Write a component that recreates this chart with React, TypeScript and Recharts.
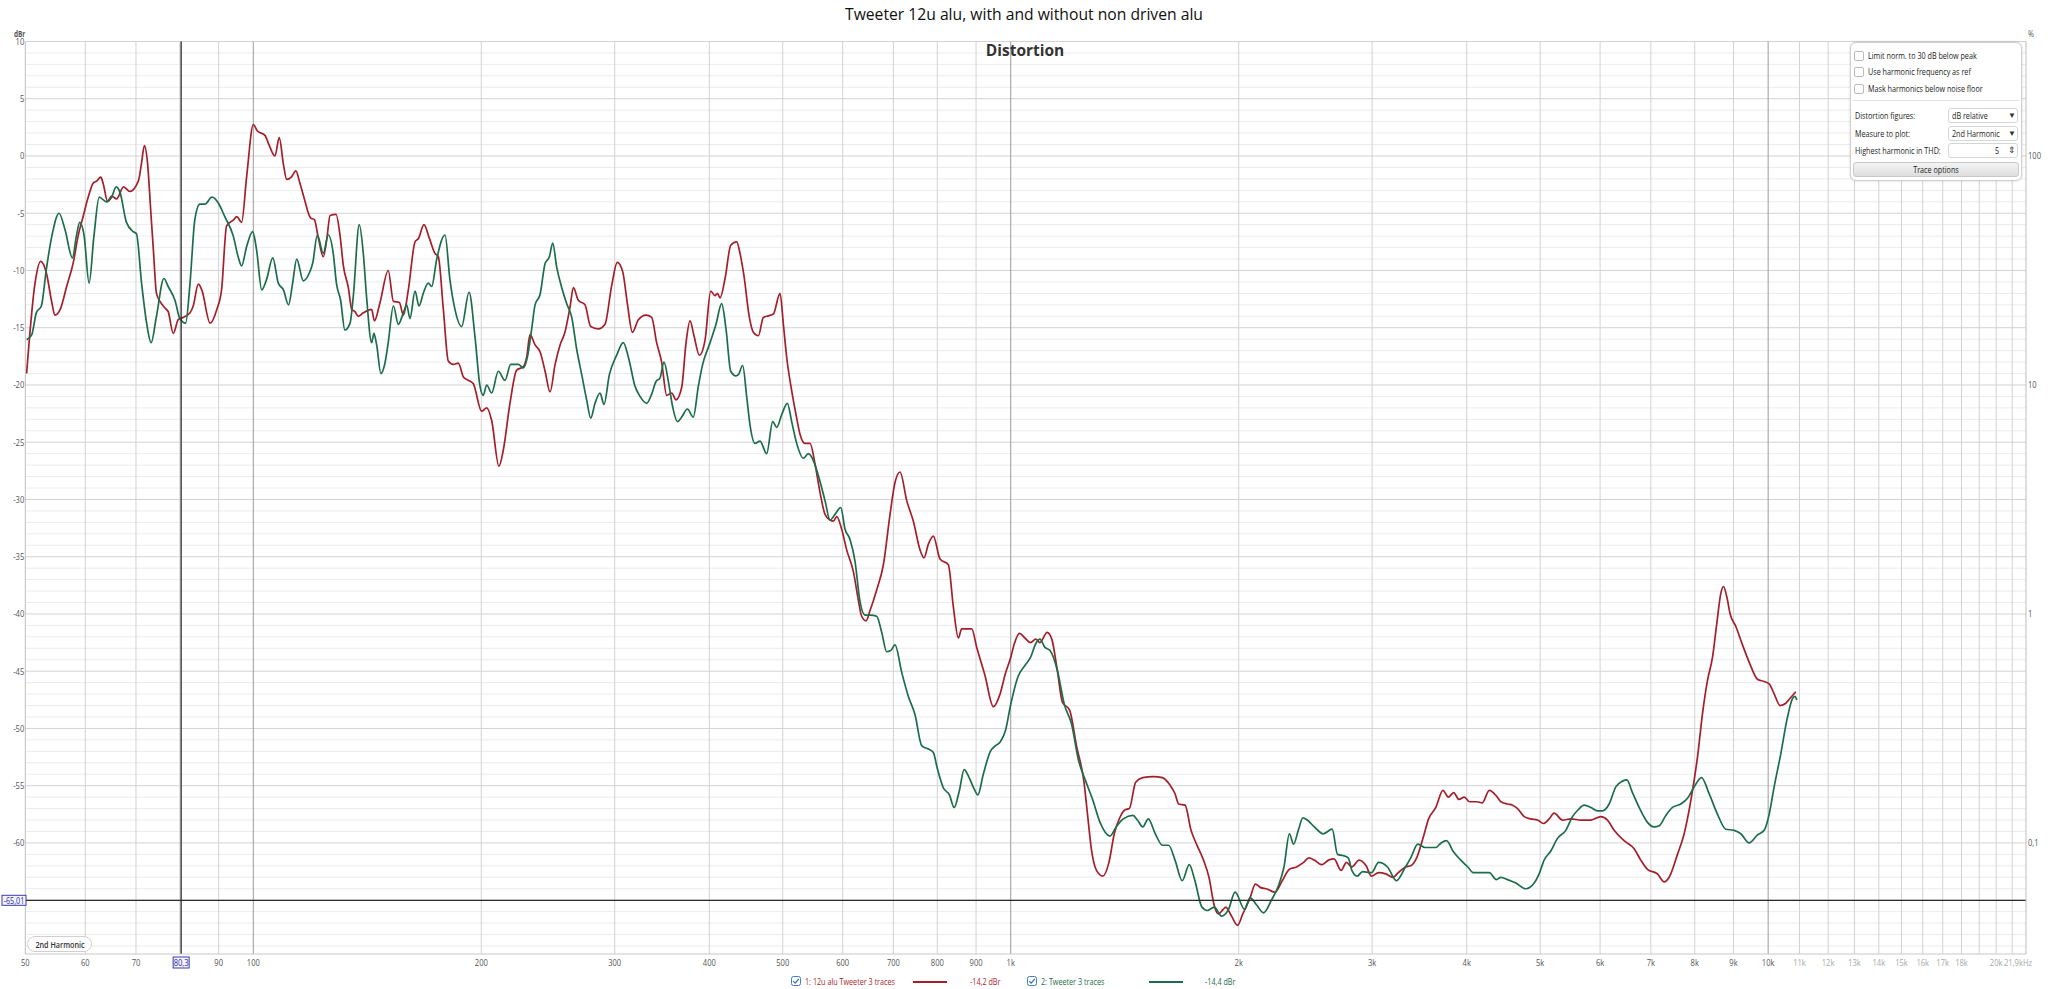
import React from "react";
import { LineChart, Line, XAxis, YAxis, CartesianGrid, ReferenceLine } from "recharts";

// ---- series: [frequency Hz, level dBr] ----
const redPoints: [number, number][] = [
  [50.2,-19.0],[51.5,-11.1],[52.4,-9.2],[53.3,-10.2],[54.2,-12.8],[54.7,-13.9],[55.6,-13.4],[56.7,-11.4],[57.9,-9.2],[58.7,-7.0],[59.6,-5.3],[60.6,-3.5],[61.5,-2.35],[62.1,-2.2],[62.9,-1.85],[63.4,-2.5],[64.2,-3.95],[65.0,-3.5],[66.0,-3.75],[67.4,-2.7],[68.7,-3.1],[70.5,-2.2],[71.2,-0.6],[71.8,0.9],[72.5,-0.6],[73.2,-4.7],[73.8,-8.2],[74.5,-12.0],[75.3,-12.7],[76.5,-13.3],[77.2,-13.6],[78.4,-15.5],[79.6,-14.3],[80.8,-14.1],[82.5,-13.7],[83.3,-13.1],[84.6,-11.2],[85.5,-11.7],[87.7,-14.6],[89.5,-13.4],[90.8,-11.7],[92.2,-6.1],[94.1,-5.6],[95.1,-5.3],[96.5,-5.8],[98.0,-1.8],[100,2.75],[101.2,2.2],[103.6,1.8],[105.0,0.9],[106.8,0],[108.2,1.6],[109.6,-0.75],[110.7,-2.05],[112.4,-1.8],[113.8,-1.3],[115.2,-2.35],[116.7,-3.66],[119.0,-5.4],[120.4,-5.56],[121.9,-7.2],[123.7,-8.8],[125.0,-7.3],[126.3,-5.2],[128.6,-5.1],[130.2,-7.0],[131.5,-9.6],[133.5,-11.5],[134.9,-13.4],[136.2,-13.6],[137.6,-14.0],[139.7,-13.7],[143.3,-13.4],[144.5,-14.4],[147.0,-12.8],[150.7,-10.0],[153.1,-12.7],[155.9,-12.8],[157.8,-13.9],[160.2,-11.7],[163.5,-7.5],[165.2,-7.2],[168.0,-6.0],[170.8,-7.2],[173.7,-8.5],[175.5,-8.8],[178.2,-13.4],[180.9,-17.9],[183.7,-18.2],[186.5,-18.1],[189.4,-19.3],[192.3,-19.6],[195.2,-19.9],[200.2,-22.3],[203.3,-22.0],[206.4,-23.1],[211.0,-27.1],[213.8,-25.7],[218.2,-21.6],[222.7,-18.7],
  [227.3,-18.4],[229.6,-17.55],[231.9,-15.6],[235.5,-16.5],[239.1,-17.1],[242.8,-18.8],[246.5,-20.6],[250.3,-18.2],[254.1,-16.5],[257.9,-15.4],[261.9,-13.2],[264.6,-11.5],[268.6,-12.6],[274.1,-13.0],[278.9,-14.9],[285.5,-15.1],[291.3,-14.7],[297.3,-11.3],[302.4,-9.3],[307.4,-10.1],[311.8,-12.9],[316.6,-15.4],[322.4,-14.3],[330.0,-13.9],[335.7,-14.1],[340.8,-16.3],[346.0,-18.0],[351.4,-20.9],[356.8,-20.7],[361.5,-21.3],[367.8,-20.2],[372.7,-16.3],[377.2,-14.4],[381.8,-15.7],[388.1,-17.4],[394.8,-16.1],[401.7,-11.8],[407.0,-12.2],[409.9,-12.0],[413.3,-12.4],[419.6,-10.7],[426.9,-7.8],[434.7,-7.5],[439.1,-8.5],[444.5,-10.5],[451.8,-14.1],[457.3,-15.4],[464.3,-15.7],[471.4,-14.1],[478.7,-13.96],[486.0,-13.8],[495.9,-12.0],[501.0,-14.7],[506.1,-17.6],[513.8,-20.5],[521.7,-22.9],[527.0,-24.3],[535.1,-25.1],[543.3,-25.1],[551.6,-26.9],[560.1,-29.4],[568.6,-31.3],[577.4,-31.8],[583.3,-31.9],[589.2,-31.5],[598.2,-32.6],[607.3,-34.4],[619.8,-36.3],[629.3,-38.8],[635.6,-40.2],[644.1,-40.6],[652.0,-39.7],[665.3,-37.9],[679.0,-35.7],[692.9,-31.3],[703.5,-28.5],[714.3,-27.6],[728.9,-30.1],[743.8,-31.9],[759.0,-34.4],[768.3,-35.1],[778.5,-33.9],[790.4,-33.2],[806.6,-35.2],[827.3,-35.7],[840.0,-39.4],[852.9,-42.1],[861.5,-41.3],[888.2,-41.3],[901.7,-42.9],[924.9,-45.4],[948.6,-48.1],
  [968,-47.0],[984,-45.2],[1000,-43.8],[1011,-42.6],[1027,-41.7],[1044,-42.1],[1062,-42.5],[1079,-42.2],[1093,-42.5],[1117,-41.6],[1133,-42.2],[1152,-44.9],[1170,-47.7],[1196,-48.4],[1222,-51.6],[1249,-54.6],[1263,-57.5],[1277,-60.4],[1298,-62.4],[1323,-62.9],[1348,-61.7],[1370,-59.2],[1393,-57.8],[1416,-57.1],[1434,-57.0],[1462,-54.7],[1494,-54.3],[1544,-54.2],[1586,-54.3],[1621,-54.9],[1648,-55.7],[1666,-56.6],[1699,-56.7],[1730,-58.9],[1759,-60.1],[1797,-61.5],[1827,-63.0],[1857,-65.5],[1881,-66.2],[1908,-65.8],[1923,-65.6],[1950,-66.2],[1993,-67.2],[2025,-66.2],[2070,-64.8],[2104,-63.6],[2138,-63.9],[2174,-64.0],[2233,-64.3],[2283,-63.3],[2333,-62.3],[2384,-62.1],[2436,-61.7],[2476,-61.3],[2517,-61.5],[2572,-61.9],[2628,-61.5],[2672,-61.4],[2730,-62.4],[2775,-61.7],[2821,-62.1],[2883,-61.5],[2946,-62.0],[2994,-62.9],[3060,-62.6],[3127,-62.7],[3196,-63.0],[3248,-62.6],[3320,-62.1],[3374,-62.0],[3430,-61.4],[3505,-59.5],[3562,-57.9],[3641,-56.9],[3721,-55.4],[3782,-56.0],[3844,-55.6],[3907,-56.2],[3970,-56.0],[4036,-56.4],[4124,-56.4],[4192,-56.5],[4284,-55.4],[4378,-55.9],
  [4437,-56.4],[4528,-56.6],[4597,-56.7],[4668,-57.0],[4763,-57.7],[4861,-57.9],[4960,-58.0],[5051,-58.3],[5139,-57.9],[5217,-57.4],[5352,-58.0],[5489,-57.9],[5659,-58.0],[5834,-58.0],[6012,-57.7],[6136,-58.0],[6261,-58.9],[6454,-59.8],[6654,-60.5],[6790,-61.5],[6929,-62.3],[7143,-62.7],[7290,-63.4],[7401,-63.0],[7591,-61.0],[7747,-59.2],[7905,-56.3],[8067,-52.5],[8191,-48.7],[8316,-45.8],[8443,-43.8],[8556,-40.8],[8660,-38.2],[8730,-37.6],[8819,-38.5],[8909,-40.0],[9065,-41.1],[9250,-42.7],[9439,-44.2],[9681,-45.7],[9879,-45.9],[10031,-46.1],[10184,-46.97],[10371,-48.0],[10552,-47.8],[10713,-47.3],[10877,-46.8],
];

const greenPoints: [number, number][] = [
  [50.2,-16.05],[51.0,-15.6],[51.7,-13.7],[52.5,-13.1],[53.3,-9.9],[54.2,-7.0],[55.4,-5.0],[56.4,-6.4],[57.7,-8.9],[58.4,-7.0],[59.0,-5.8],[59.8,-7.0],[60.7,-11.1],[61.6,-7.0],[62.6,-3.6],[64.0,-4.0],[65.0,-3.6],[65.9,-2.7],[66.7,-3.2],[68.0,-5.8],[69.4,-6.6],[70.1,-6.8],[71.2,-11.1],[72.3,-14.6],[73.3,-16.3],[74.5,-14.0],[76.2,-10.7],[77.2,-11.4],[78.8,-12.6],[80.0,-14.2],[81.4,-14.6],[82.5,-11.1],[83.7,-5.6],[85.0,-4.2],[86.3,-4.2],[88.2,-3.6],[89.9,-4.1],[91.7,-5.3],[94.1,-7.0],[95.5,-8.8],[96.5,-9.6],[98.0,-7.9],[99.8,-6.6],[101.0,-8.2],[102.6,-11.7],[104.1,-10.8],[106.1,-8.9],[107.9,-11.1],[109.6,-11.7],[111.3,-13.0],[112.7,-11.1],[114.1,-9.0],[116.4,-10.9],[118.6,-10.2],[119.8,-9.35],[121.5,-6.9],[123.7,-8.5],[125.6,-6.9],[127.5,-8.5],[128.8,-11.2],[130.4,-12.6],[132.1,-15.2],[134.2,-14.6],[135.5,-12.3],[138.0,-6.0],[139.7,-8.5],[141.1,-12.3],[143.3,-16.3],[144.3,-15.5],[145.5,-16.5],[147.4,-19.0],[149.2,-18.1],[150.7,-16.3],[153.1,-13.1],[155.4,-14.7],[157.8,-13.7],[159.4,-13.0],[161.0,-14.2],[163.5,-11.8],[165.5,-13.1],[167.7,-11.97],[170.2,-11.1],[172.0,-11.4],[174.6,-9.05],[179.1,-6.9],[181.8,-10.8],[184.6,-13.4],[188.4,-14.9],[192.7,-11.9],[196.2,-15.8],[199.2,-20.1],[201.2,-20.9],[203.3,-20.0],[206.4,-20.7],[210.6,-18.8],[214.9,-19.6],[218.7,-18.2],[223.8,-18.2],
  [227.3,-18.5],[230.1,-17.55],[233.1,-15.1],[235.5,-13.0],[239.1,-12.1],[242.8,-9.4],[246.0,-8.8],[248.5,-7.6],[251.5,-9.7],[255.4,-11.5],[259.3,-12.9],[263.3,-14.1],[267.3,-16.9],[271.4,-19.1],[275.5,-21.3],[278.9,-22.9],[282.6,-21.6],[286.9,-20.7],[290.4,-21.7],[295.2,-19.1],[301.8,-17.4],[308.0,-16.3],[312.7,-17.55],[319.1,-20.1],[324.0,-21.0],[330.7,-21.6],[335.7,-20.8],[340.2,-19.7],[344.3,-19.4],[348.5,-18.0],[353.2,-19.7],[357.8,-21.9],[363.0,-23.2],[367.8,-22.8],[374.2,-22.1],[381.0,-22.8],[386.9,-20.1],[392.0,-18.2],[400.9,-16.3],[408.2,-14.7],[415.3,-12.9],[420.8,-15.1],[426.9,-18.8],[433.8,-19.2],[436.9,-19.1],[442.7,-18.3],[448.1,-21.0],[452.7,-23.5],[459.6,-25.1],[466.7,-24.9],[476.2,-26.0],[485.0,-23.2],[490.9,-23.7],[498.4,-22.6],[507.1,-21.6],[513.8,-23.2],[521.7,-25.1],[532.4,-26.4],[540.5,-26.0],[548.8,-26.6],[557.2,-27.9],[568.6,-30.1],[577.4,-31.8],[586.2,-31.3],[596.4,-30.7],[604.3,-32.6],[613.5,-33.5],[622.9,-35.4],[632.4,-38.9],[642.1,-40.1],[652.0,-40.1],[665.3,-40.2],[675.5,-41.6],[685.9,-43.3],[694.3,-43.2],[703.5,-42.7],[717.9,-45.1],[732.6,-47.2],[747.6,-48.8],[762.9,-51.5],[778.5,-51.8],[790.4,-52.1],
  [800,-53.5],[815,-55.2],[830,-55.8],[842,-56.9],[855,-55.5],[868,-53.6],[880,-54.2],[895,-55.3],[905,-55.8],[920,-54.0],[940,-52.0],[955,-51.5],
  [968,-51.2],[984,-50.2],[1000,-47.9],[1022,-45.5],[1044,-44.5],[1062,-43.8],[1079,-42.6],[1093,-42.2],[1109,-42.9],[1127,-43.2],[1152,-44.9],[1177,-47.9],[1203,-49.6],[1229,-52.8],[1256,-54.6],[1284,-56.3],[1312,-58.2],[1352,-59.4],[1378,-58.6],[1408,-57.9],[1450,-57.6],[1470,-58.0],[1494,-58.6],[1519,-57.9],[1552,-59.2],[1586,-60.2],[1616,-60.2],[1648,-61.5],[1684,-63.3],[1721,-61.9],[1749,-63.2],[1788,-65.6],[1817,-65.9],[1857,-65.6],[1898,-66.4],[1939,-65.8],[1978,-64.3],[2036,-65.8],[2070,-64.8],[2111,-65.4],[2157,-66.1],[2209,-65.0],[2258,-63.7],[2295,-62.1],[2333,-59.2],[2363,-60.1],[2397,-58.9],[2431,-57.8],[2463,-58.0],[2517,-58.6],[2586,-59.2],[2657,-58.8],[2701,-61.0],[2745,-61.1],[2790,-61.3],[2821,-62.4],[2867,-62.9],[2914,-62.5],[2994,-62.6],[3060,-61.7],[3144,-62.1],[3230,-63.3],[3320,-62.1],[3374,-61.3],[3448,-60.1],[3524,-60.4],[3640,-60.4],[3700,-60.0],[3761,-59.8],[3844,-60.8],[3928,-61.5],[4014,-62.1],[4080,-62.6],[4192,-62.6],[4284,-62.6],[4378,-63.2],
  [4437,-63.0],[4528,-63.2],[4644,-63.5],[4787,-64.0],[4910,-63.5],[4985,-62.7],[5061,-61.5],[5165,-60.7],[5271,-59.6],[5406,-58.9],[5517,-57.7],[5613,-57.1],[5716,-56.7],[5834,-56.9],[5952,-57.2],[6043,-57.2],[6167,-56.6],[6293,-55.1],[6422,-54.6],[6507,-54.5],[6620,-55.6],[6756,-56.9],[6929,-58.2],[7071,-58.6],[7179,-58.5],[7327,-57.6],[7477,-56.9],[7669,-56.6],[7826,-56.1],[7986,-55.1],[8166,-54.3],[8358,-55.7],[8573,-57.5],[8793,-58.8],[9018,-58.9],[9203,-59.2],[9439,-60.0],[9681,-59.3],[9879,-58.9],[10031,-57.5],[10184,-55.1],[10393,-52.2],[10584,-49.3],[10768,-47.4],[10845,-47.2],[10911,-47.5],
];

// ---- axes / ticks ----
const xTicks = [50, 60, 70, 80.3, 90, 100, 200, 300, 400, 500, 600, 700, 800, 900, 1000, 2000, 3000, 4000, 5000, 6000, 7000, 8000, 9000, 10000, 11000, 12000, 13000, 14000, 15000, 16000, 17000, 18000, 20000, 21900];
const xTickLabels = ["50", "60", "70", "80,3", "90", "100", "200", "300", "400", "500", "600", "700", "800", "900", "1k", "2k", "3k", "4k", "5k", "6k", "7k", "8k", "9k", "10k", "11k", "12k", "13k", "14k", "15k", "16k", "17k", "18k", "20k", "21,9kHz"];
const gridFreqs = [60, 70, 80, 90, 200, 300, 400, 500, 600, 700, 800, 900, 2000, 3000, 4000, 5000, 6000, 7000, 8000, 9000, 11000, 12000, 13000, 14000, 15000, 16000, 17000, 18000, 19000, 20000, 21000];
const decadeFreqs = [100, 1000, 10000];
const dbTicks = [10, 5, 0, -5, -10, -15, -20, -25, -30, -35, -40, -45, -50, -55, -60, -65.01];
const dbTickLabels = ["10", "5", "0", "-5", "-10", "-15", "-20", "-25", "-30", "-35", "-40", "-45", "-50", "-55", "-60", "-65,01"];
const majorDb = [10, 5, 0, -5, -10, -15, -20, -25, -30, -35, -40, -45, -50, -55, -60, -65];
const minorDb = [9, 8, 7, 6, 4, 3, 2, 1, -1, -2, -3, -4, -6, -7, -8, -9, -11, -12, -13, -14, -16, -17, -18, -19, -21, -22, -23, -24, -26, -27, -28, -29, -31, -32, -33, -34, -36, -37, -38, -39, -41, -42, -43, -44, -46, -47, -48, -49, -51, -52, -53, -54, -56, -57, -58, -59, -61, -62, -63, -64, -66, -67, -68, -69];
const pctTicks = [0, -20, -40, -60];
const pctTickLabels = ["100", "10", "1", "0,1"];
const cursorFreq = 80.3;
const cursorDb = -65.01;
const dbDomain: [number, number] = [-69.7, 10];
const freqDomain: [number, number] = [50, 21900];

const RED = "#a51f2b";
const GREEN = "#1c6d4b";
const FONT = "'Open Sans', 'Noto Sans', sans-serif";
const SX = 0.8;

const XTick = (props: any) => {
  const { x, y, payload } = props;
  const i = xTicks.indexOf(payload.value);
  const label = xTickLabels[i] ?? "";
  if (payload.value === cursorFreq) {
    return (
      <g>
        <rect x={x - 8} y={y + 3} width={16} height={11} fill="#f4f4ff" stroke="#3a3aa8" strokeWidth={1} />
        <text transform={`translate(${x},${y + 12}) scale(${SX},1)`} textAnchor="middle" fontSize={9.5} fill="#2a2aa0" fontFamily={FONT}>{label}</text>
      </g>
    );
  }
  const light = payload.value > 10000;
  const dx = payload.value === 21900 ? -8 : 0;
  return (
    <text transform={`translate(${x + dx},${y + 12}) scale(${SX},1)`} textAnchor="middle" fontSize={9.5} fill={light ? "#a8a8a8" : "#555"} fontFamily={FONT}>{label}</text>
  );
};

const YTick = (props: any) => {
  const { x, y, payload } = props;
  const i = dbTicks.indexOf(payload.value);
  const label = dbTickLabels[i] ?? "";
  if (payload.value === cursorDb) {
    return (
      <g>
        <rect x={2} y={y - 5} width={24} height={10} fill="#f4f4ff" stroke="#3a3aa8" strokeWidth={1} />
        <text transform={`translate(${14},${y + 3.5}) scale(${SX},1)`} textAnchor="middle" fontSize={9} fill="#2a2aa0" fontFamily={FONT}>{label}</text>
      </g>
    );
  }
  return (
    <text transform={`translate(${x},${y + 3.5}) scale(${SX},1)`} textAnchor="end" fontSize={9.5} fill="#555" fontFamily={FONT}>{label}</text>
  );
};

const PTick = (props: any) => {
  const { x, y, payload } = props;
  const i = pctTicks.indexOf(payload.value);
  return (
    <text transform={`translate(${x},${y + 3.5}) scale(${SX},1)`} textAnchor="start" fontSize={9.5} fill="#555" fontFamily={FONT}>{pctTickLabels[i]}</text>
  );
};

const Txt = ({ left, top, size, children, color = "#222", weight = 400, sx = SX, anchor = "left" }: any) => (
  <div
    style={{
      position: "absolute",
      left,
      top,
      fontSize: size,
      color,
      fontWeight: weight,
      whiteSpace: "nowrap",
      lineHeight: 1,
      transform: anchor === "center" ? `translateX(-50%) scaleX(${sx})` : `scaleX(${sx})`,
      transformOrigin: anchor === "center" ? "center" : "left",
    }}
  >
    {children}
  </div>
);

const CheckBox = ({ left, top }: any) => (
  <div style={{ position: "absolute", left, top, width: 8, height: 8, border: "1px solid #bbb", borderRadius: 2, background: "#fff" }} />
);

const Ticked = ({ left, top }: any) => (
  <svg style={{ position: "absolute", left, top }} width={10} height={10}>
    <rect x={0.5} y={0.5} width={9} height={9} rx={2} fill="#fff" stroke="#3c7fc4" />
    <path d="M2.2 5.2 L4.2 7.2 L7.8 2.8" fill="none" stroke="#2f6fb5" strokeWidth={1.2} />
  </svg>
);

export default function App() {
  const redData = redPoints.map(([f, v]) => ({ f, v }));
  const greenData = greenPoints.map(([f, v]) => ({ f, v }));
  return (
    <div style={{ position: "fixed", left: 0, top: 0, width: 2048, height: 989, background: "#fff", overflow: "hidden", fontFamily: FONT }}>
      <LineChart width={2048} height={989} margin={{ top: 41.5, right: 0, bottom: 0, left: 0 }}>
        <CartesianGrid vertical={false} horizontalValues={minorDb} stroke="#ececec" />
        <CartesianGrid vertical={false} horizontalValues={majorDb} stroke="#d3d3d3" />
        <CartesianGrid horizontal={false} verticalValues={gridFreqs} stroke="#d2d2d2" />
        <CartesianGrid horizontal={false} verticalValues={decadeFreqs} stroke="#9c9c9c" />
        <XAxis dataKey="f" type="number" scale="log" domain={freqDomain} allowDataOverflow ticks={xTicks} interval={0} height={35} tickSize={0} tickMargin={0} tick={(p: any) => <XTick {...p} />} axisLine={{ stroke: "#c8c8c8" }} tickLine={false} />
        <YAxis type="number" domain={dbDomain} allowDataOverflow ticks={dbTicks} interval={0} width={25.3} tickSize={0} tickMargin={1} tick={(p: any) => <YTick {...p} />} axisLine={{ stroke: "#bdbdbd" }} tickLine={false} />
        <YAxis yAxisId="pct" orientation="right" type="number" domain={dbDomain} allowDataOverflow ticks={pctTicks} interval={0} width={22} tickSize={0} tickMargin={2} tick={(p: any) => <PTick {...p} />} axisLine={{ stroke: "#bdbdbd" }} tickLine={false} />
        <Line data={redData} dataKey="v" type="monotone" stroke={RED} strokeWidth={1.7} dot={false} activeDot={false} isAnimationActive={false} />
        <Line data={greenData} dataKey="v" type="monotone" stroke={GREEN} strokeWidth={1.7} dot={false} activeDot={false} isAnimationActive={false} />
        <ReferenceLine x={cursorFreq} stroke="#2b2b2b" strokeWidth={1.3} />
        <ReferenceLine y={cursorDb} stroke="#2b2b2b" strokeWidth={1.3} />
      </LineChart>

      {/* title and headings */}
      <Txt left={1024} top={6} size={16.5} color="#111" anchor="center" sx={0.95}>Tweeter 12u alu, with and without non driven alu</Txt>
      <Txt left={1025} top={43} size={15.5} color="#333" weight={700} anchor="center" sx={1.0}>Distortion</Txt>
      <Txt left={14} top={30} size={8} color="#555" weight={700}>dBr</Txt>
      <Txt left={2028} top={29} size={9} color="#555">%</Txt>

      {/* 2nd harmonic pill */}
      <div style={{ position: "absolute", left: 27, top: 936, width: 65, height: 16, border: "1.5px solid #d0d0d0", borderRadius: 8, background: "#fff", boxSizing: "border-box" }} />
      <Txt left={60} top={940} size={9} color="#333" weight={600} anchor="center">2nd Harmonic</Txt>

      {/* options panel */}
      <div style={{ position: "absolute", left: 1850, top: 42, width: 172, height: 139, border: "1px solid #cfcfcf", borderRadius: 6, background: "#fff", boxShadow: "0 0 3px rgba(0,0,0,0.15)", boxSizing: "border-box" }} />
      <CheckBox left={1854} top={51} />
      <Txt left={1868} top={51} size={9} color="#222">Limit norm. to 30 dB below peak</Txt>
      <CheckBox left={1854} top={67} />
      <Txt left={1868} top={67} size={9} color="#222">Use harmonic frequency as ref</Txt>
      <CheckBox left={1854} top={84} />
      <Txt left={1868} top={84} size={9} color="#222">Mask harmonics below noise floor</Txt>
      <div style={{ position: "absolute", left: 1853, top: 100, width: 166, height: 1, background: "#e2e2e2" }} />
      <Txt left={1855} top={111} size={9} color="#222">Distortion figures:</Txt>
      <div style={{ position: "absolute", left: 1948, top: 108, width: 70, height: 15, border: "1px solid #d6d6d6", borderRadius: 3, boxSizing: "border-box", background: "#fff" }} />
      <Txt left={1952} top={111} size={9} color="#222">dB relative</Txt>
      <Txt left={2008} top={111} size={8} color="#333" sx={1}>▼</Txt>
      <Txt left={1855} top={129} size={9} color="#222">Measure to plot:</Txt>
      <div style={{ position: "absolute", left: 1948, top: 126, width: 70, height: 15, border: "1px solid #d6d6d6", borderRadius: 3, boxSizing: "border-box", background: "#fff" }} />
      <Txt left={1952} top={129} size={9} color="#222">2nd Harmonic</Txt>
      <Txt left={2008} top={129} size={8} color="#333" sx={1}>▼</Txt>
      <Txt left={1855} top={146} size={9} color="#222">Highest harmonic in THD:</Txt>
      <div style={{ position: "absolute", left: 1948, top: 143, width: 70, height: 15, border: "1px solid #d6d6d6", borderRadius: 3, boxSizing: "border-box", background: "#fff" }} />
      <Txt left={1995} top={146} size={9} color="#222">5</Txt>
      <Txt left={2008} top={145} size={9} color="#333" sx={1}>⇕</Txt>
      <div style={{ position: "absolute", left: 1853, top: 162, width: 166, height: 15, border: "1px solid #c8c8c8", borderRadius: 3, boxSizing: "border-box", background: "linear-gradient(#f4f4f4, #dedede)" }} />
      <Txt left={1936} top={165} size={9} color="#222" anchor="center">Trace options</Txt>

      {/* legend */}
      <Ticked left={791} top={976} />
      <Txt left={805} top={977} size={9} color={RED}>1: 12u alu Tweeter 3 traces</Txt>
      <div style={{ position: "absolute", left: 913, top: 981, width: 34, height: 2, background: RED }} />
      <Txt left={970} top={977} size={9} color={RED}>-14,2 dBr</Txt>
      <Ticked left={1027} top={976} />
      <Txt left={1041} top={977} size={9} color={GREEN}>2: Tweeter 3 traces</Txt>
      <div style={{ position: "absolute", left: 1149, top: 981, width: 34, height: 2, background: GREEN }} />
      <Txt left={1205} top={977} size={9} color={GREEN}>-14,4 dBr</Txt>
    </div>
  );
}
